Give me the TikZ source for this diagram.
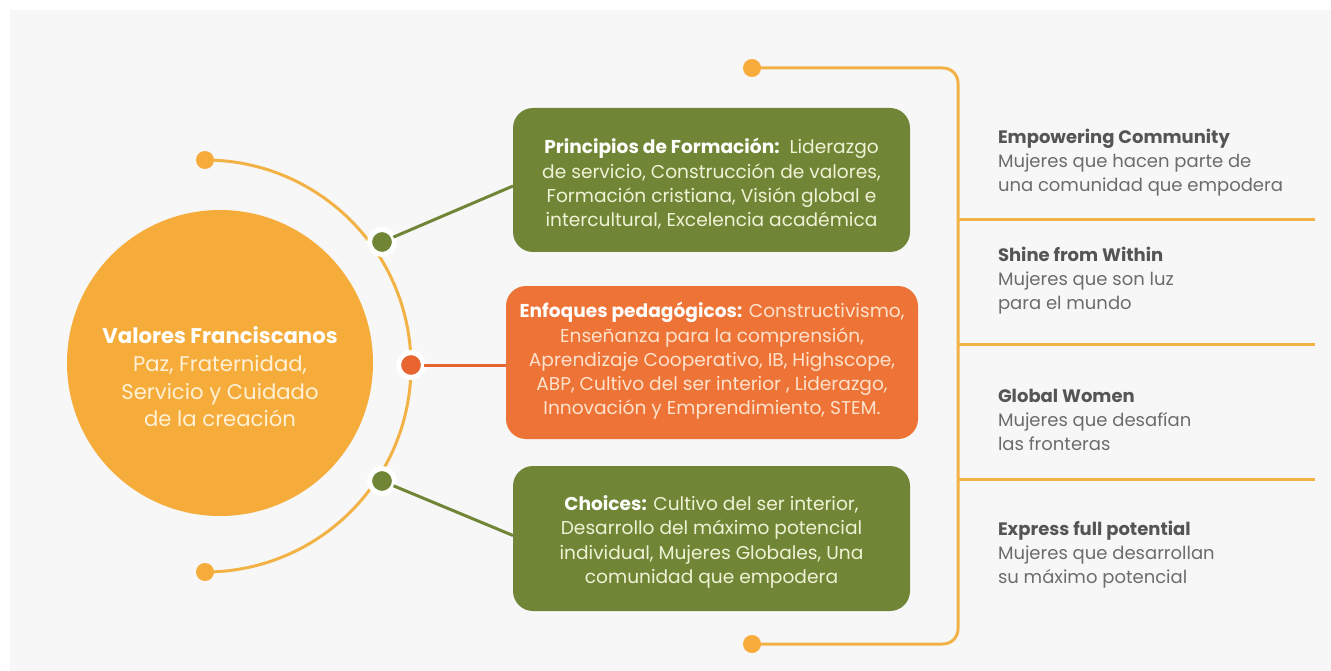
\documentclass[tikz,border=0pt]{standalone}
\usepackage{fontspec}
\setmainfont{Poppins}
\usetikzlibrary{calc}

\definecolor{valgreen}{RGB}{112,134,54}
\definecolor{valorange}{RGB}{238,115,55}
\definecolor{valdot}{RGB}{232,100,48}
\definecolor{valgold}{RGB}{245,172,58}
\definecolor{valline}{RGB}{243,178,70}
\definecolor{boxtext}{RGB}{240,242,214}
\definecolor{orangetext}{RGB}{253,226,204}
\definecolor{hubtext}{RGB}{255,240,214}
\definecolor{goalhead}{RGB}{85,85,85}
\definecolor{goaltext}{RGB}{108,108,108}

\begin{document}
\begin{tikzpicture}[x=1pt,y=-1pt,
    every node/.style={inner sep=0pt,outer sep=0pt},
    topicbox/.style={fill=#1,rounded corners=20pt,minimum width=397pt,minimum height=144pt},
    topictext/.style={text=boxtext,align=center,font=\fontsize{18.6}{24.3}\selectfont},
    hubdot/.style={circle,draw=white,line width=5pt,fill=#1,minimum size=25pt},
    tipdot/.style={circle,fill=valgold,minimum size=18pt},
    link/.style={line width=3pt,#1},
    goal/.style={anchor=west,align=left,text=goaltext,font=\fontsize{18}{24}\selectfont}
  ]
  % background
  \fill[white] (0,0) rectangle (1331,671);
  \fill[gray!6] (10,10) rectangle (1331,671);
  \useasboundingbox (0,0) rectangle (1331,671);

  % half ring around the circle
  \coordinate (arcTop) at (205,160);
  \coordinate (arcBot) at (205,572);
  \draw[valline,line width=3pt] (arcTop) arc[start angle=-90,end angle=90,radius=206];
  \node[tipdot] (tipTop) at (arcTop) {};
  \node[tipdot] (tipBot) at (arcBot) {};

  % topic boxes
  \node[topicbox=valgreen] (principios) at (711.5,180) {};
  \node[topicbox=valorange,minimum width=412pt,minimum height=153pt] (enfoques) at (712,362.5) {};
  \node[topicbox=valgreen,minimum height=145pt] (choices) at (711.5,538.5) {};
  \node[topictext] (principiosTxt) at (711.5,184) {%
    \textbf{\color{white!90!boxtext}Principios de Formación:}\ \ Liderazgo\\
    de servicio, Construcción de valores,\\
    Formación cristiana, Visión global e\\
    intercultural, Excelencia académica};
  \node[topictext,text=orangetext] (enfoquesTxt) at (712,361) {%
    \textbf{\color{white!92!orangetext}Enfoques pedagógicos:} Constructivismo,\\
    Enseñanza para la comprensión,\\
    Aprendizaje Cooperativo, IB, Highscope,\\
    ABP, Cultivo del ser interior , Liderazgo,\\
    Innovación y Emprendimiento, STEM.};
  \node[topictext] (choicesTxt) at (711.5,542) {%
    \textbf{\color{white!90!boxtext}Choices:} Cultivo del ser interior,\\
    Desarrollo del máximo potencial\\
    individual, Mujeres Globales, Una\\
    comunidad que empodera};

  % dots on the ring and their links
  \node[hubdot=valgreen] (dotP) at (382,242) {};
  \node[hubdot=valdot] (dotE) at (411,365) {};
  \node[hubdot=valgreen] (dotC) at (382,481) {};
  \draw[link=valgreen] (dotP) -- ($(principios.west)+(0,6)$);
  \draw[link=valdot] (dotE) -- (enfoques.west |- dotE);
  \draw[link=valgreen] (dotC) -- ($(choices.west)+(0,-3)$);

  % main circle
  \node[circle,fill=valgold,minimum size=306pt] (valores) at (220,363) {};
  \node[text=hubtext,align=center,font=\fontsize{21.2}{27.6}\selectfont] (valoresTxt) at (220,377) {%
    \textbf{\color{white}Valores Franciscanos}\\
    Paz, Fraternidad,\\
    Servicio y Cuidado\\
    de la creación};

  % bracket on the right
  \coordinate (brTop) at (752,68);
  \coordinate (brBot) at (752,644);
  \draw[valline,line width=3pt,rounded corners=15pt] (brTop) -- (958,68) -- (958,644) -- (brBot);
  \node[tipdot] (brTopDot) at (brTop) {};
  \node[tipdot] (brBotDot) at (brBot) {};
  \foreach \y in {220,344,479}
    \draw[valline,line width=3pt] (958,\y) -- (1315,\y);

  % goals
  \node[goal] (empow) at (998,163) {\textbf{\color{goalhead}Empowering Community}\\
    Mujeres que hacen parte de\\ una comunidad que empodera};
  \node[goal] (shine) at (998,281) {\textbf{\color{goalhead}Shine from Within}\\
    Mujeres que son luz\\ para el mundo};
  \node[goal] (global) at (998,420) {\textbf{\color{goalhead}Global Women}\\
    Mujeres que desafían\\ las fronteras};
  \node[goal] (express) at (998,555) {\textbf{\color{goalhead}Express full potential}\\
    Mujeres que desarrollan\\ su máximo potencial};
\end{tikzpicture}
\end{document}
